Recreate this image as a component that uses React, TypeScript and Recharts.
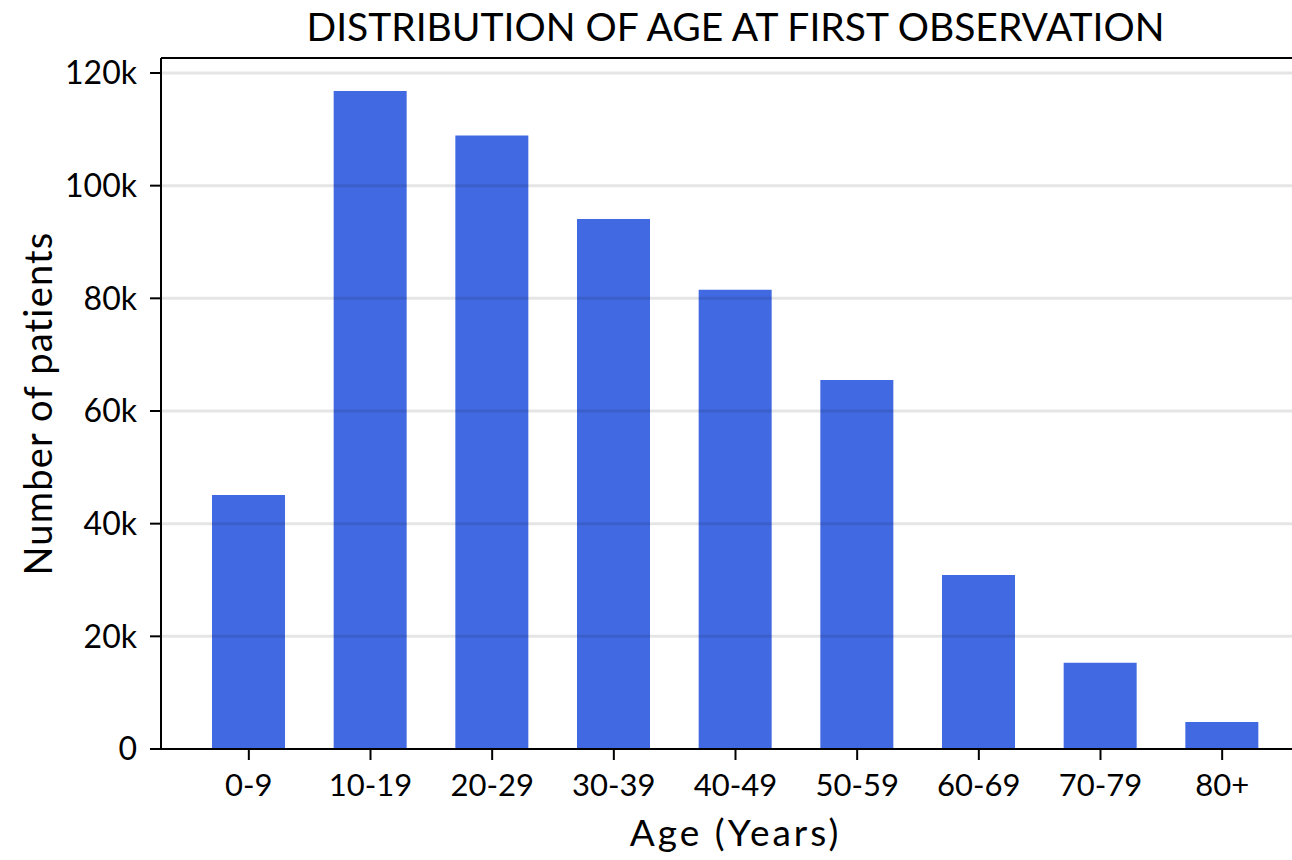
import React from 'react';
import { BarChart, Bar, XAxis, YAxis, ReferenceLine, Label } from 'recharts';

const ageGroups = ['0-9', '10-19', '20-29', '30-39', '40-49', '50-59', '60-69', '70-79', '80+'];
const patientCounts = [45100, 116800, 108900, 94100, 81500, 65500, 30900, 15300, 4800];
const yTicks = [0, 20000, 40000, 60000, 80000, 100000, 120000];
const yMax = 122660;

const FONT = 'Lato, "Noto Sans", sans-serif';

const data = ageGroups.map((age, i) => ({ age, count: patientCounts[i] }));

const fmtK = (v: number) => (v === 0 ? '0' : `${v / 1000}k`);

export default function App() {
  return (
    <div
      style={{
        position: 'absolute',
        left: 0,
        top: 0,
        width: 1292,
        height: 860,
        overflow: 'hidden',
        background: '#fff',
        fontFamily: FONT,
      }}
    >
      <div
        style={{
          position: 'absolute',
          left: 161,
          width: 1149,
          top: 6,
          textAlign: 'center',
          fontSize: 39,
          lineHeight: '40px',
          color: '#000',
        }}
      >
        DISTRIBUTION OF AGE AT FIRST OBSERVATION
      </div>
      <BarChart
        width={1310}
        height={860}
        data={data}
        margin={{ top: 58, right: 0, bottom: 0, left: 0 }}
        style={{ fontFamily: FONT }}
      >
        <XAxis
          dataKey="age"
          height={111}
          padding={{ left: 27, right: 27 }}
          tick={{ fontSize: 31, fill: '#000' }}
          tickSize={11}
          tickMargin={14}
          axisLine={{ stroke: '#000', strokeWidth: 2 }}
          tickLine={{ stroke: '#000', strokeWidth: 2 }}
        >
          <Label
            value="Age (Years)"
            position="insideBottom"
            offset={14}
            fontSize={37}
            fill="#000"
            style={{ letterSpacing: 3 }}
          />
        </XAxis>
        <YAxis
          width={161}
          domain={[0, yMax]}
          ticks={yTicks}
          tickFormatter={fmtK}
          tick={{ fontSize: 32, fill: '#000' }}
          tickSize={11}
          tickMargin={13}
          axisLine={{ stroke: '#000', strokeWidth: 2 }}
          tickLine={{ stroke: '#000', strokeWidth: 2 }}
        >
          <Label
            content={({ viewBox }: any) => {
              const cx = viewBox.x + 37;
              const cy = viewBox.y + viewBox.height / 2;
              return (
                <text
                  x={cx}
                  y={cy}
                  transform={`rotate(-90 ${cx} ${cy})`}
                  textAnchor="middle"
                  dominantBaseline="central"
                  fontSize={38}
                  fill="#000"
                  fontFamily={FONT}
                  style={{ letterSpacing: 1.2 }}
                >
                  Number of patients
                </text>
              );
            }}
          />
        </YAxis>
        <Bar dataKey="count" fill="#4169E1" barSize={73} isAnimationActive={false} />
        {yTicks.slice(1).map((t) => (
          <ReferenceLine key={t} y={t} stroke="#000" strokeOpacity={0.1} strokeWidth={3} />
        ))}
        <ReferenceLine y={yMax} stroke="#000" strokeWidth={2} />
      </BarChart>
    </div>
  );
}
